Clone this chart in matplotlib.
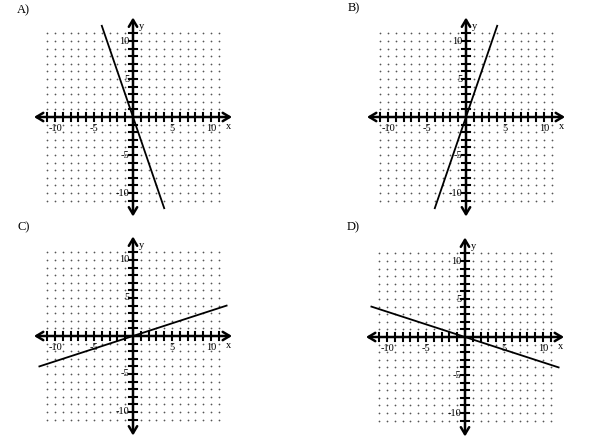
import numpy as np
import matplotlib
matplotlib.use("Agg")
import matplotlib.pyplot as plt

# panel data: two end points of each line
labels = ["A)", "B)", "C)", "D)"]
line_x = [[-4, 4], [-4, 4], [-12, 12], [-12, 12]]
line_y = [[12, -12], [-12, 12], [-4, 4], [4, -4]]
x_ticklabels = [-10, -5, 5, 10]
y_ticklabels = [10, 5, -5, -10]
grid_vals = list(range(-11, 12))

# pixel positions of each origin in the 600x441 picture
origins = [(133, 117), (466, 117), (133, 336), (465, 337)]
label_pos = [(17, 10), (348, 8), (17, 227), (347, 227)]

W, H = 600, 441
sx, sy = 7.8, 7.6   # pixels per unit
lim = 13.5

plt.rcParams["font.family"] = ["Liberation Serif", "DejaVu Serif"]
fig = plt.figure(figsize=(6, 4.41), dpi=100)

for i in range(4):
    ox, oy = origins[i]
    left = (ox - lim * sx) / W
    bottom = (H - oy - lim * sy) / H
    ax = fig.add_axes([left, bottom, 2 * lim * sx / W, 2 * lim * sy / H])
    ax.set_xlim(-lim, lim)
    ax.set_ylim(-lim, lim)
    ax.axis("off")

    # dotted grid
    gx, gy = np.meshgrid(grid_vals, grid_vals)
    ax.scatter(gx.ravel(), gy.ravel(), s=1.6, c="#555555", linewidths=0, zorder=1)

    # axes with open arrow heads
    ax.annotate("", xy=(12.7, 0), xytext=(-12.7, 0),
                arrowprops=dict(arrowstyle="<->,head_length=0.5,head_width=0.3", lw=1.8,
                                color="black", mutation_scale=10, shrinkA=0, shrinkB=0),
                zorder=3)
    ax.annotate("", xy=(0, 13.1), xytext=(0, -13.1),
                arrowprops=dict(arrowstyle="<->,head_length=0.5,head_width=0.3", lw=1.8,
                                color="black", mutation_scale=10, shrinkA=0, shrinkB=0),
                zorder=3)

    # tick marks
    for v in grid_vals:
        if v == 0:
            continue
        ax.plot([v, v], [-0.5, 0.5], color="black", lw=1.5, zorder=3)
        ax.plot([-0.5, 0.5], [v, v], color="black", lw=1.5, zorder=3)

    for v in x_ticklabels:
        ax.text(v, -1.45, str(v), ha="center", va="center", fontsize=7.5, zorder=4)
    for v in y_ticklabels:
        ax.text(-0.45, v, str(v), ha="right", va="center", fontsize=7.5, zorder=4)
    ax.text(12.3, -1.3, "x", ha="center", va="center", fontsize=7.5)
    ax.text(1.1, 11.9, "y", ha="center", va="center", fontsize=7.5)

    ax.plot(line_x[i], line_y[i], color="black", lw=1.3, zorder=5)

    lx, ly = label_pos[i]
    fig.text(lx / W, 1 - ly / H, labels[i], ha="left", va="center", fontsize=9)

fig.savefig("out.png", dpi=100)
